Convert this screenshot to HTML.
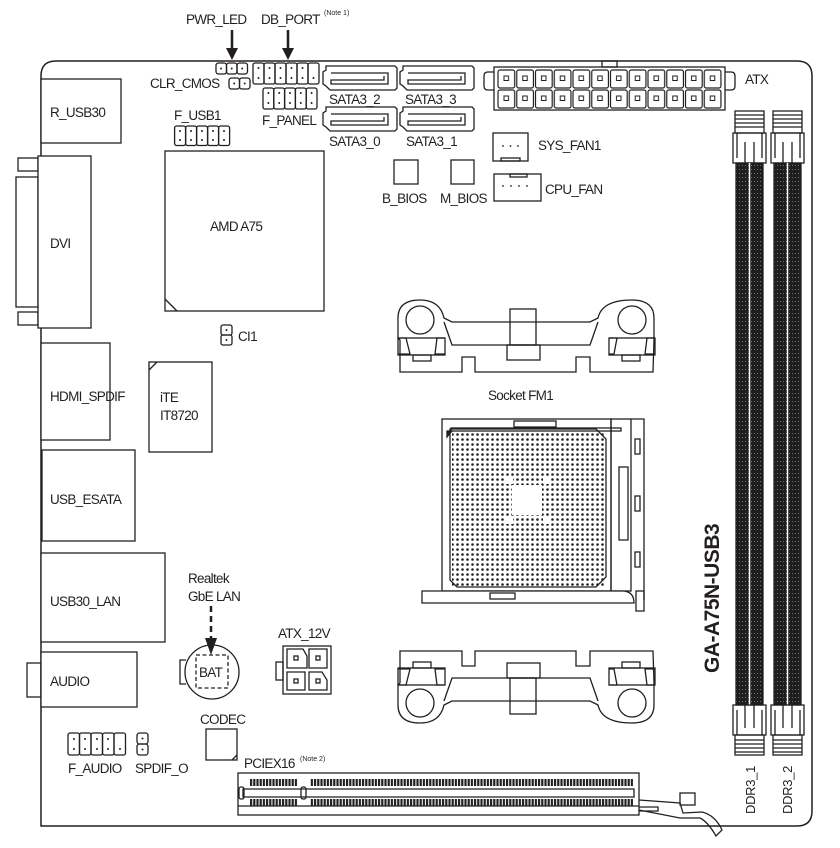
<!DOCTYPE html>
<html><head><meta charset="utf-8"><style>
html,body{margin:0;padding:0;background:#fff}
svg{display:block}
text{font-family:"Liberation Sans",Arial,sans-serif;font-size:13.5px;letter-spacing:-0.7px;fill:#231f20}
</style></head><body>
<svg width="840" height="848" viewBox="0 0 840 848" xmlns="http://www.w3.org/2000/svg">
<defs>
<pattern id="atxc" width="18.75" height="20" patternUnits="userSpaceOnUse" x="497" y="69">
<rect x="1" y="1" width="16.7" height="18" rx="2" fill="none" stroke="#231f20" stroke-width="1.2"/>
<rect x="7" y="7" width="4.5" height="4.5" fill="none" stroke="#231f20" stroke-width="1"/>
</pattern>
<pattern id="dots" width="5" height="5" patternUnits="userSpaceOnUse" x="450" y="432">
<circle cx="2.5" cy="2.5" r="1.3" fill="#231f20"/>
</pattern>
<pattern id="teeth" width="3.2" height="8" patternUnits="userSpaceOnUse" x="250" y="0">
<rect x="0" y="0" width="2.2" height="8" fill="#231f20"/>
</pattern>
<pattern id="dimm" width="6" height="4" patternUnits="userSpaceOnUse">
<rect width="6" height="4" fill="#1e1e1e"/><rect x="1" y="1" width="1" height="1" fill="#777"/><rect x="4" y="1" width="1" height="1" fill="#777"/>
</pattern>
</defs>

<g fill="none" stroke="#231f20" stroke-width="1.3">
<path d="M41 826 L41 76 Q41 61 56 61 L797 61 Q812 61 812 76 L812 811 Q812 826 797 826 Z" stroke-width="1.5"/>

<rect x="41" y="79" width="80" height="64" fill="#fff"/>
<rect x="18" y="158" width="20" height="13"/>
<rect x="18" y="312" width="20" height="13"/>
<rect x="16" y="177" width="22" height="130"/>
<rect x="38" y="156" width="53" height="172" fill="#fff"/>
<rect x="41" y="343" width="69" height="97" fill="#fff"/>
<rect x="42" y="450" width="93" height="91" fill="#fff"/>
<rect x="41" y="553" width="124" height="89" fill="#fff"/>
<rect x="27" y="663" width="14" height="34"/>
<rect x="41" y="652" width="96" height="55" fill="#fff"/>

<!-- F_USB1 -->
<rect x="174.6" y="126" width="11" height="19.5" rx="2"/><rect x="185.6" y="126" width="11" height="19.5" rx="2"/><rect x="196.6" y="126" width="11" height="19.5" rx="2"/><rect x="207.6" y="126" width="11" height="19.5" rx="2"/><rect x="218.6" y="126" width="11" height="19.5" rx="2"/>
<rect x="165" y="151" width="159" height="160"/>
<path d="M165 299 L177 311" />
<rect x="221" y="325" width="11" height="10" rx="2"/><rect x="221" y="335" width="11" height="10" rx="2"/>
<rect x="149" y="362" width="63" height="90"/>
<path d="M149 370 L157 362"/>

<rect x="216" y="63" width="10.5" height="11" rx="2.5"/><rect x="226.5" y="63" width="10.5" height="11" rx="2.5"/><rect x="237" y="63" width="10.5" height="11" rx="2.5"/>
<rect x="229" y="78" width="10.5" height="11" rx="2.5"/><rect x="239.5" y="78" width="10.5" height="11" rx="2.5"/>
<!-- DB_PORT / F_PANEL -->
<rect x="253" y="63" width="11" height="21" rx="2"/><rect x="264" y="63" width="11" height="21" rx="2"/><rect x="275" y="63" width="11" height="21" rx="2"/><rect x="286" y="63" width="11" height="21" rx="2"/><rect x="297" y="63" width="11" height="21" rx="2"/><rect x="308" y="63" width="11" height="21" rx="2"/>
<rect x="263" y="88" width="10.8" height="21" rx="2"/><rect x="273.8" y="88" width="10.8" height="21" rx="2"/><rect x="284.6" y="88" width="10.8" height="21" rx="2"/><rect x="295.4" y="88" width="10.8" height="21" rx="2"/><rect x="306.2" y="88" width="10.8" height="21" rx="2"/>

<g id="sata"><path d="M326 66 L395 66 L397 68 L397 88 L395 90 L330 90 L326 86 L323 84 L323 72 L326 70 Z"/><path d="M331 73 L388 73 L388 84 L331 84 L331 80 L384 80 L384 76"/></g>
<use href="#sata" x="77" y="0"/>
<use href="#sata" x="0" y="41"/>
<use href="#sata" x="77" y="41"/>

<rect x="394" y="160" width="24" height="24"/>
<rect x="451" y="160" width="23" height="24"/>

<rect x="494" y="67" width="231" height="43"/>
<rect x="497" y="69" width="225" height="40" fill="url(#atxc)" stroke="none"/>
<path d="M494 72 L488 72 Q484 72 484 76 L484 86 Q484 90 488 90 L494 90"/>
<path d="M725 72 L731 72 Q735 72 735 76 L735 86 Q735 90 731 90 L725 90"/>
<rect x="602" y="61" width="15" height="6"/>

<rect x="493" y="133" width="35" height="28"/><rect x="501" y="158" width="19" height="3"/>
<rect x="494" y="174" width="47" height="27"/><rect x="510" y="174" width="17" height="3"/>

<g id="dimmg">
<rect x="735" y="111" width="29" height="22"/>
<path d="M735 115 H764 M735 119 H764 M735 123 H764 M735 127 H764"/>
<path d="M733 133 H766 V163 H733 Z"/>
<path d="M737 133 V158 M762 133 V158 M745 142 V163 M754 142 V163"/>
<rect x="736" y="163" width="27" height="542" fill="url(#dimm)" stroke="#231f20"/>
<line x1="749.5" y1="163" x2="749.5" y2="705" stroke="#fff" stroke-width="1.5"/>
<path d="M733 705 H766 V735 H733 Z"/>
<path d="M737 710 V735 M762 710 V735 M745 705 V728 M754 705 V728"/>
<rect x="735" y="735" width="29" height="20"/>
<path d="M735 740 H764 M735 744 H764 M735 748 H764 M735 752 H764"/>
</g>
<use href="#dimmg" x="38" y="0"/>

<g id="brk">
<path d="M400 372 L400 340 L398 338 L398 318 Q398 300 420 300 Q440 300 444 318 L452 322 L590 322 L598 318 Q602 300 632 300 Q654 300 654 318 L654 340 L653 372 L590 372 L590 357 L576 357 L576 372 L475 372 L475 357 L462 357 L462 372 Z"/>
<circle cx="420" cy="320" r="14"/><circle cx="632" cy="320" r="14"/>
<path d="M444 322 L452 345 L590 345 L598 322"/>
<rect x="398" y="338" width="47" height="17"/>
<path d="M398 338 L406 338 L410 354 L398 354 M445 338 L437 338 L435 354 L445 354"/>
<rect x="413" y="355" width="18" height="6"/>
<rect x="609" y="338" width="46" height="17"/>
<path d="M609 338 L617 338 L614 354 L609 354 M655 338 L647 338 L645 354 L655 354"/>
<rect x="622" y="355" width="18" height="6"/>
<rect x="510" y="309" width="26" height="36"/>
<rect x="507" y="345" width="33" height="15"/>
</g>
<use href="#brk" transform="matrix(1,0,0,-1,0,1023)"/>

<rect x="442" y="419" width="169" height="172"/>
<rect x="611" y="419" width="20" height="172"/>
<path d="M631 419 L644 419 L644 600"/>
<rect x="451" y="428" width="170" height="3"/>
<rect x="514" y="421" width="42" height="6"/>
<path d="M450 429 L596 429 L606 439 L606 577 L596 587 L457 587 L450 580 Z"/>
<path d="M447 437 L452 431 L447 431 Z" fill="#231f20"/>
<rect x="635" y="439" width="5" height="15"/><rect x="635" y="496" width="5" height="15"/><rect x="635" y="552" width="5" height="15"/>
<rect x="619" y="467" width="9" height="73"/>
<path d="M422 591 L622 591 Q634 591 634 603 L422 603 Z" fill="#fff"/>
<rect x="636" y="591" width="8" height="20"/>
<rect x="490" y="593" width="25" height="6"/>
</g>
<rect x="452" y="432" width="152" height="154" fill="url(#dots)"/>
<rect x="512" y="485" width="30" height="30" fill="#fff"/>
<rect x="505" y="476" width="8" height="8" fill="#fff"/><rect x="543" y="476" width="8" height="8" fill="#fff"/>
<rect x="505" y="516" width="8" height="8" fill="#fff"/><rect x="543" y="516" width="8" height="8" fill="#fff"/>

<g fill="none" stroke="#231f20" stroke-width="1.3">
<rect x="276" y="662" width="7" height="18"/>
<rect x="283" y="646" width="48" height="48"/>
<path d="M287 649 H303 L307 656 V668 H287 Z M309 649 H327 V668 H309 Z M287 672 H305 V690 H287 Z M309 672 H322 L327 680 V690 H309 Z"/>
<rect x="294" y="656" width="4" height="4"/><rect x="316" y="656" width="4" height="4"/><rect x="294" y="679" width="4" height="4"/><rect x="316" y="679" width="4" height="4"/>

<circle cx="212" cy="672" r="27"/>
<path d="M186 660 L180 660 L180 684 L186 684"/>
<rect x="196" y="655" width="32" height="33" stroke-dasharray="4 2.5"/>
<path d="M211 606 V640" stroke-width="2.5" stroke-dasharray="6 4"/>

<rect x="206" y="729" width="31" height="31"/>
<path d="M232 760 L237 755"/>

<rect x="68" y="733" width="11.5" height="22" rx="2"/><rect x="79.5" y="733" width="11.5" height="22" rx="2"/><rect x="91" y="733" width="11.5" height="22" rx="2"/><rect x="102.5" y="733" width="11.5" height="22" rx="2"/><rect x="114" y="733" width="11.5" height="22" rx="2"/>
<rect x="137" y="733" width="11" height="11" rx="2.5"/><rect x="137" y="744" width="11" height="11" rx="2.5"/>

<rect x="238" y="773" width="401" height="42"/>
<path d="M238 806 H639 M639 807 H658 V811 H639"/>
<path d="M243 789 H634 V797 H243 Z" />
<rect x="239" y="787" width="5" height="12" rx="2"/>
<rect x="301" y="787" width="5" height="12" rx="2"/>
<path d="M639 800 L680 803 L683 813 L702 812 Q715 815 722 830 L716 836 Q708 822 700 818 L680 818 L639 810"/>
<rect x="680" y="793" width="15" height="12"/>
</g>
<rect x="250" y="779" width="48" height="7" fill="url(#teeth)"/>
<rect x="310" y="779" width="323" height="7" fill="url(#teeth)"/>
<rect x="250" y="799" width="48" height="7" fill="url(#teeth)"/>
<rect x="310" y="799" width="323" height="7" fill="url(#teeth)"/>

<g fill="#231f20">
<circle cx="221" cy="68.5" r="1"/><circle cx="231.7" cy="68.5" r="1"/><circle cx="242.2" cy="68.5" r="1"/>
<circle cx="234.2" cy="83.5" r="1"/><circle cx="244.7" cy="83.5" r="1"/>
<circle cx="226.5" cy="330" r="1"/><circle cx="226.5" cy="340" r="1"/>
<circle cx="142.5" cy="738.5" r="1"/><circle cx="142.5" cy="749.5" r="1"/>
<circle cx="74" cy="739" r="1"/><circle cx="74" cy="749" r="1"/><circle cx="85" cy="739" r="1"/><circle cx="85" cy="749" r="1"/><circle cx="97" cy="739" r="1"/><circle cx="97" cy="749" r="1"/><circle cx="108" cy="739" r="1"/><circle cx="108" cy="749" r="1"/><circle cx="120" cy="749" r="1"/>
<!-- F_USB1 dots -->
<circle cx="180" cy="131" r="1"/><circle cx="180" cy="140" r="1"/><circle cx="191" cy="131" r="1"/><circle cx="191" cy="140" r="1"/><circle cx="202" cy="131" r="1"/><circle cx="202" cy="140" r="1"/><circle cx="213" cy="131" r="1"/><circle cx="213" cy="140" r="1"/><circle cx="224" cy="131" r="1"/><circle cx="224" cy="140" r="1"/>
<!-- DB_PORT dots -->
<circle cx="258.5" cy="68" r="1"/><circle cx="258.5" cy="78" r="1"/><circle cx="269.5" cy="68" r="1"/><circle cx="269.5" cy="78" r="1"/><circle cx="280.5" cy="68" r="1"/><circle cx="280.5" cy="78" r="1"/><circle cx="291.5" cy="68" r="1"/><circle cx="291.5" cy="78" r="1"/><circle cx="302.5" cy="68" r="1"/><circle cx="302.5" cy="78" r="1"/><circle cx="313.5" cy="78" r="1"/>
<!-- F_PANEL dots -->
<circle cx="268.4" cy="93" r="1"/><circle cx="268.4" cy="103" r="1"/><circle cx="279.2" cy="93" r="1"/><circle cx="279.2" cy="103" r="1"/><circle cx="290" cy="93" r="1"/><circle cx="290" cy="103" r="1"/><circle cx="300.8" cy="93" r="1"/><circle cx="300.8" cy="103" r="1"/><circle cx="311.6" cy="93" r="1"/><circle cx="311.6" cy="103" r="1"/>
<!-- fans -->
<circle cx="503" cy="146" r="0.9"/><circle cx="510.5" cy="146" r="0.9"/><circle cx="518" cy="146" r="0.9"/>
<circle cx="503" cy="186" r="0.9"/><circle cx="511" cy="186" r="0.9"/><circle cx="519" cy="186" r="0.9"/><circle cx="527" cy="186" r="0.9"/>
</g>
<g stroke="#231f20" stroke-width="2.5"><line x1="232" y1="30" x2="232" y2="50"/><line x1="288" y1="30" x2="288" y2="50"/></g>
<path d="M226 48 L238 48 L232 60 Z M282 48 L294 48 L288 60 Z M205 638 L217 638 L211 655 Z" fill="#231f20"/>

<text x="186" y="24">PWR_LED</text>
<text x="261" y="24">DB_PORT</text>
<text x="324" y="15" style="font-size:7px;letter-spacing:0">(Note 1)</text>
<text x="150" y="88">CLR_CMOS</text>
<text x="174" y="120">F_USB1</text>
<text x="262" y="125">F_PANEL</text>
<text x="329" y="104">SATA3_2</text>
<text x="405" y="104">SATA3_3</text>
<text x="329" y="146">SATA3_0</text>
<text x="406" y="146">SATA3_1</text>
<text x="382" y="203">B_BIOS</text>
<text x="440" y="203">M_BIOS</text>
<text x="745" y="84">ATX</text>
<text x="538" y="150">SYS_FAN1</text>
<text x="545" y="194">CPU_FAN</text>
<text x="50" y="117">R_USB30</text>
<text x="50" y="248">DVI</text>
<text x="210" y="231">AMD A75</text>
<text x="238" y="341">CI1</text>
<text x="160" y="402">iTE</text>
<text x="160" y="420">IT8720</text>
<text x="50" y="401">HDMI_SPDIF</text>
<text x="50" y="504">USB_ESATA</text>
<text x="50" y="606">USB30_LAN</text>
<text x="50" y="686">AUDIO</text>
<text x="488" y="400">Socket FM1</text>
<text x="188" y="583">Realtek</text>
<text x="188" y="601">GbE LAN</text>
<text x="278" y="638">ATX_12V</text>
<text x="199" y="677">BAT</text>
<text x="200" y="724">CODEC</text>
<text x="68" y="773">F_AUDIO</text>
<text x="135" y="773">SPDIF_O</text>
<text x="244" y="768">PCIEX16</text>
<text x="300" y="761" style="font-size:7px;letter-spacing:0">(Note 2)</text>
<text transform="translate(719,673) rotate(-90)" style="font-size:21px;font-weight:bold;letter-spacing:-0.5px">GA-A75N-USB3</text>
<text transform="translate(755,814) rotate(-90)" style="font-size:13px;letter-spacing:-0.3px">DDR3_1</text>
<text transform="translate(792,814) rotate(-90)" style="font-size:13px;letter-spacing:-0.3px">DDR3_2</text>
</svg>
</body></html>
